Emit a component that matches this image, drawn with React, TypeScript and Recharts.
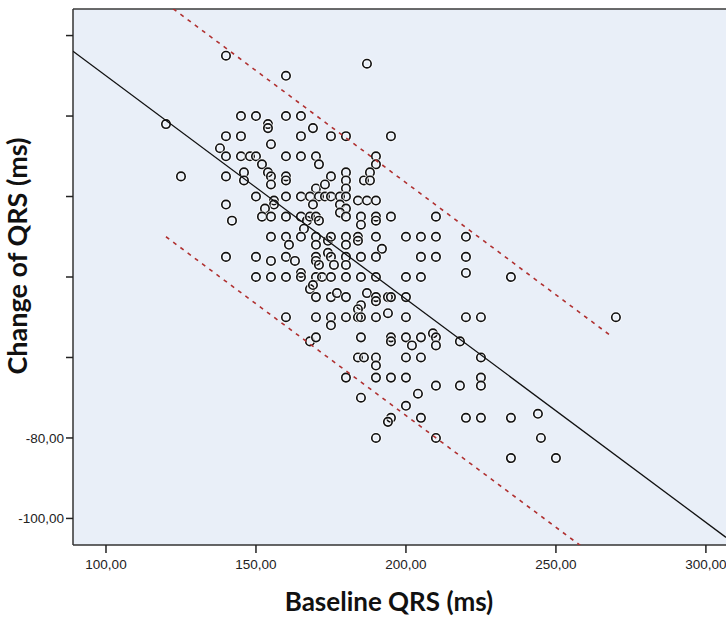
import { ScatterChart, Scatter, XAxis, YAxis, CartesianGrid, ReferenceLine } from 'recharts'

// axis ticks (SPSS style, comma decimals)
const xTicks = [100, 150, 200, 250, 300]
const yTicks = [20, 0, -20, -40, -60, -80, -100]
const yLabelled = [-80, -100]

// baseline QRS (ms) for each patient
const baselineQrs = [
  140, 160, 187, 120, 125,
  145, 150, 160, 165, 154, 154, 169,
  140, 145, 165, 175, 180, 195, 155, 138,
  140, 145, 148, 150, 160, 165, 170, 190, 152, 171, 190,
  140, 146, 146, 154, 155, 155, 160, 160, 175, 180, 180, 186, 188, 188, 170, 173, 180,
  150, 160, 165, 168, 171, 173, 175, 178, 180, 140, 156, 156, 169, 178, 184, 187, 190, 153, 180,
  142, 152, 155, 160, 165, 167, 168, 170, 171, 178, 180, 185, 185, 190, 190, 195, 210, 166,
  155, 160, 161, 165, 170, 170, 174, 175, 180, 180, 184, 184, 190, 192, 200, 205, 210, 220,
  140, 150, 155, 160, 163, 170, 170, 171, 174, 175, 176, 180, 180, 185, 190, 205, 210, 220,
  150, 155, 160, 165, 165, 170, 172, 175, 180, 185, 190, 200, 205, 220, 235, 168, 169,
  170, 175, 177, 180, 187, 185, 184, 190, 190, 194, 195, 200,
  160, 170, 175, 175, 180, 184, 185, 190, 194, 200, 220, 225, 270,
  168, 170, 185, 195, 195, 200, 202, 205, 209, 210, 210, 218,
  184, 186, 190, 190, 200, 205, 225,
  180, 190, 195, 200, 225, 225, 210, 218, 204, 185, 200, 195, 194, 205, 220, 225, 235, 244,
  190, 210, 245, 235, 250,
]

// change of QRS (ms), same order as baselineQrs
const qrsChange = [
  15, 10, 13, -2, -15,
  0, 0, 0, 0, -2, -3, -3,
  -5, -5, -5, -5, -5, -5, -7, -8,
  -10, -10, -10, -10, -10, -10, -10, -10, -12, -12, -12,
  -15, -14, -16, -14, -15, -17, -15, -16, -15, -14, -16, -16, -14, -16, -18, -17, -18,
  -20, -20, -20, -20, -20, -20, -20, -20, -20, -22, -21, -22, -22, -22, -21, -21, -21, -23, -23,
  -26, -25, -25, -25, -25, -26, -25, -25, -26, -24, -25, -25, -27, -25, -26, -25, -25, -28,
  -30, -30, -32, -30, -30, -32, -31, -30, -30, -32, -30, -31, -30, -33, -30, -30, -30, -30,
  -35, -35, -36, -35, -36, -35, -36, -37, -34, -35, -37, -35, -37, -35, -35, -35, -35, -35,
  -40, -40, -40, -39, -40, -40, -40, -40, -40, -40, -40, -40, -40, -39, -40, -43, -42,
  -45, -45, -44, -45, -44, -47, -48, -45, -46, -45, -45, -45,
  -50, -50, -50, -52, -50, -50, -50, -50, -49, -50, -50, -50, -50,
  -56, -55, -55, -55, -56, -55, -57, -55, -54, -55, -57, -56,
  -60, -60, -60, -62, -60, -60, -60,
  -65, -65, -65, -65, -65, -67, -67, -67, -69, -70, -72, -75, -76, -75, -75, -75, -75, -74,
  -80, -80, -80, -85, -85,
]

// fit line and the two dashed limit lines (end points)
const fitLine = [
  { x: 89, y: 16.1 },
  { x: 306.7, y: -104.7 },
]
const upperLimit = [
  { x: 120, y: 28 },
  { x: 269, y: -55 },
]
const lowerLimit = [
  { x: 120, y: -30 },
  { x: 270, y: -113.3 },
]

const points = baselineQrs.map((x, i) => ({ x, y: qrsChange[i] }))

const tickFont = 'Arial, "Liberation Sans", sans-serif'
const titleFont = 'Lato, "Open Sans", sans-serif'

const fmt = (v: number) => v.toFixed(2).replace('.', ',')

const Ring = (props: any) => {
  const { cx, cy } = props
  if (cx == null || cy == null) return <g />
  return (
    <g>
      <circle cx={cx} cy={cy} r={4.2} fill="none" stroke="#ffffff" strokeOpacity={0.75} strokeWidth={3.6} />
      <circle cx={cx} cy={cy} r={4.2} fill="none" stroke="#121212" strokeWidth={1.65} />
    </g>
  )
}

const NoDot = () => <g />

export default function App() {
  return (
    <div style={{ position: 'relative', width: 726, height: 618, background: '#ffffff', overflow: 'hidden' }}>
      <style>{'body{margin:0}'}</style>
      <ScatterChart width={726} height={618} margin={{ top: 9, right: 0, left: 0, bottom: 0 }}>
        <CartesianGrid horizontal={false} vertical={false} fill="#E9EFF8" />
        <XAxis
          type="number"
          dataKey="x"
          domain={[89, 306.7]}
          ticks={xTicks}
          interval={0}
          allowDataOverflow
          height={73}
          tickSize={8}
          tickMargin={6}
          tickFormatter={fmt}
          axisLine={{ stroke: '#333', strokeWidth: 1.5 }}
          tickLine={{ stroke: '#222', strokeWidth: 1.5 }}
          tick={{ fontSize: 13.5, fill: '#222', fontFamily: tickFont }}
        />
        <YAxis
          type="number"
          dataKey="y"
          domain={[-106.6, 26.6]}
          ticks={yTicks}
          interval={0}
          allowDataOverflow
          width={73}
          tickSize={7}
          tickFormatter={(v: number) => (yLabelled.includes(v) ? fmt(v) : '')}
          axisLine={{ stroke: '#333', strokeWidth: 1.5 }}
          tickLine={{ stroke: '#222', strokeWidth: 1.5 }}
          tick={{ fontSize: 13.5, fill: '#222', fontFamily: tickFont }}
        />
        <ReferenceLine y={26.6} stroke="#3a3a3a" strokeWidth={1.6} />
        <Scatter data={points} shape={<Ring />} isAnimationActive={false} />
        <Scatter
          data={fitLine}
          line={{ stroke: '#111', strokeWidth: 1.3 }}
          shape={<NoDot />}
          isAnimationActive={false}
        />
        <Scatter
          data={upperLimit}
          line={{ stroke: '#B03030', strokeWidth: 1.6, strokeDasharray: '4 5' }}
          shape={<NoDot />}
          isAnimationActive={false}
        />
        <Scatter
          data={lowerLimit}
          line={{ stroke: '#B03030', strokeWidth: 1.6, strokeDasharray: '4 5' }}
          shape={<NoDot />}
          isAnimationActive={false}
        />
      </ScatterChart>
      <div
        style={{
          position: 'absolute',
          left: 389,
          top: 601,
          transform: 'translate(-50%, -50%)',
          whiteSpace: 'nowrap',
          fontFamily: titleFont,
          fontWeight: 700,
          fontSize: 26,
          lineHeight: '26px',
          color: '#111',
        }}
      >
        Baseline QRS (ms)
      </div>
      <div
        style={{
          position: 'absolute',
          left: 17,
          top: 256,
          transform: 'translate(-50%, -50%) rotate(-90deg)',
          whiteSpace: 'nowrap',
          fontFamily: titleFont,
          fontWeight: 700,
          fontSize: 27,
          lineHeight: '28px',
          color: '#111',
        }}
      >
        Change of QRS (ms)
      </div>
    </div>
  )
}
